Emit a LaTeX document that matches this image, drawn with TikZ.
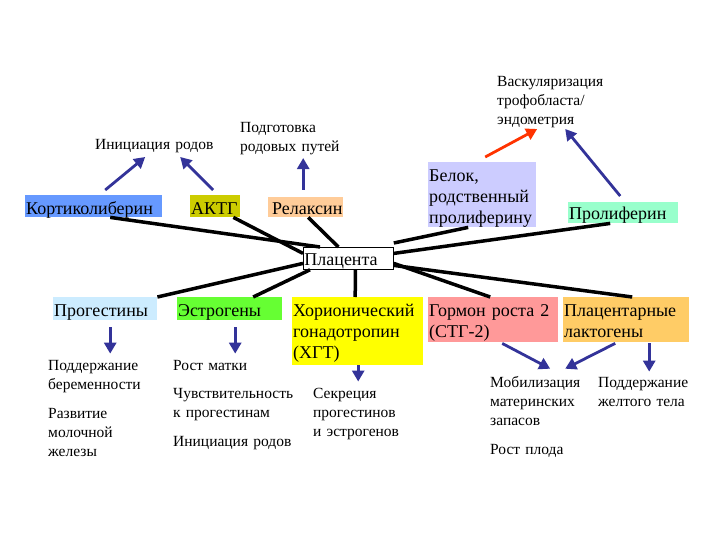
\documentclass[tikz,border=0pt]{standalone}
\usepackage{fontspec}
\setmainfont{Liberation Serif}
\usepackage{xcolor}
\usepackage{tikz}
\usetikzlibrary{arrows.meta,positioning}

\definecolor{kortblue}{HTML}{6699FF}
\definecolor{aktgolive}{HTML}{CCCC00}
\definecolor{relaxpeach}{HTML}{FFCC99}
\definecolor{belokviolet}{HTML}{CCCCFF}
\definecolor{prolifmint}{HTML}{99FFCC}
\definecolor{progestsky}{HTML}{CCECFF}
\definecolor{estrgreen}{HTML}{66FF33}
\definecolor{hgtyellow}{HTML}{FFFF00}
\definecolor{stgpink}{HTML}{FF9999}
\definecolor{laktorange}{HTML}{FFCC66}
\definecolor{arrowblue}{HTML}{333399}
\definecolor{arrowred}{HTML}{FF3300}

\newcommand\bigtext{\fontsize{18}{21}\selectfont}
\newcommand\smalltext{\fontsize{15.5}{19}\selectfont}

\tikzset{
    hormone/.style={anchor=north west, inner xsep=1pt, inner ysep=0pt, align=left, font=\bigtext},
    effect/.style={anchor=base west, inner sep=0pt, align=left, font=\smalltext},
    link/.style={line width=3.5pt},
    effarrow/.style={line width=2.8pt, color=arrowblue, -{Triangle[length=11pt,width=12pt]}}
}

\begin{document}
\begin{tikzpicture}[x=1pt, y=-1pt]
                \useasboundingbox (0,0) rectangle (720,540);

                \node[hormone, fill=kortblue, text width=135pt, text height=19pt, text depth=3pt] (kort) at (25,195) {Кортиколиберин};
                \node[hormone, fill=aktgolive, text width=48pt, text height=19pt, text depth=3pt] (aktg) at (190,195) {АКТГ};
                \node[hormone, fill=relaxpeach, text width=73pt, text height=17pt, text depth=3pt] (relax) at (268,197) {\,Релаксин};
                \node[hormone, fill=belokviolet, text width=106pt, text height=19pt, text depth=46pt] (belok) at (428,162) {Белок,\\родственный\\пролиферину};
                \node[hormone, fill=prolifmint, text width=108pt, text height=17pt, text depth=4pt] (prolif) at (568,202) {Пролиферин};

                \node[hormone, draw=black, line width=0.8pt, fill=white, text width=88pt, text height=18pt, text depth=4pt] (plac) at (303,247) {Плацента};

                \node[hormone, fill=progestsky, text width=102pt, text height=19pt, text depth=4pt] (progest) at (53,297) {Прогестины};
                \node[hormone, fill=estrgreen, text width=103pt, text height=19pt, text depth=4pt] (estr) at (177,297) {Эстрогены};
                \node[hormone, fill=hgtyellow, text width=129pt, text height=19pt, text depth=49pt] (hgt) at (292,297) {Хорионический\\гонадотропин\\(ХГТ)};
                \node[hormone, fill=stgpink, text width=128pt, text height=19pt, text depth=26pt] (stg) at (428,297) {Гормон~роста~2\\(СТГ-2)};
                \node[hormone, fill=laktorange, text width=124pt, text height=19pt, text depth=26pt] (lakt) at (563,297) {Плацентарные\\лактогены};

                \node[effect, text width=135pt] (init) at (95,150) {Инициация родов};
                \node[effect, text width=120pt] (podg) at (240,133) {Подготовка\\родовых путей};
                \node[effect, text width=125pt] (vask) at (497,87) {Васкуляризация\\трофобласта/\\эндометрия};

                \node[effect, text width=110pt] (podd1) at (48,370) {Поддержание\\беременности};
                \node[effect, text width=100pt] (razv) at (48,418) {Развитие\\молочной\\железы};
                \node[effect, text width=90pt] (rost) at (173,370) {Рост матки};
                \node[effect, text width=140pt] (chuv) at (173,398) {Чувствительность\\к прогестинам};
                \node[effect, text width=135pt] (init2) at (173,446) {Инициация родов};
                \node[effect, text width=105pt] (sekr) at (313,398) {Секреция\\прогестинов\\и эстрогенов};
                \node[effect, text width=105pt] (mob) at (490,387) {Мобилизация\\материнских\\запасов};
                \node[effect, text width=90pt] (rostp) at (490,454) {Рост плода};
                \node[effect, text width=105pt] (podd2) at (598,387) {Поддержание\\желтого тела};

                \draw[link] ([xshift=16.5pt]kort.south) -- ([xshift=17pt]plac.north west);
                \draw[link] ([xshift=-7pt]aktg.south east) -- ([yshift=5pt]plac.west);
                \draw[link] ([xshift=2.5pt]relax.south) -- ([xshift=-10pt]plac.north);
                \draw[link] ([xshift=-14pt]belok.south) -- ([yshift=4pt]plac.north east);
                \draw[link] ([xshift=-13pt]prolif.south) -- ([yshift=5pt]plac.east);
                \draw[link] (progest.north east) -- ([yshift=-5pt]plac.west);
                \draw[link] ([xshift=23.5pt]estr.north) -- ([xshift=7pt]plac.south west);
                \draw[link] ([xshift=7pt]plac.south) -- ([xshift=-2.5pt]hgt.north);
                \draw[link] ([yshift=-5pt]plac.east) -- ([xshift=-3pt]stg.north);
                \draw[link] ([yshift=-7pt]plac.east) -- ([xshift=6pt]lakt.north);

                \draw[effarrow] ([xshift=11.5pt,yshift=5pt]kort.north) -- ([xshift=-17.5pt,yshift=-3.5pt]init.south);
                \draw[effarrow] ([xshift=-2pt,yshift=5pt]aktg.north) -- ([xshift=17.5pt,yshift=-3.5pt]init.south);
                \draw[effarrow] ([xshift=-2.5pt,yshift=7pt]relax.north) -- ([xshift=3pt,yshift=-2.5pt]podg.south);
                \draw[effarrow, color=arrowred] ([xshift=3pt,yshift=5pt]belok.north) -- ([xshift=-22.5pt,yshift=-0.5pt]vask.south);
                \draw[effarrow] ([xshift=-3pt,yshift=6pt]prolif.north) -- ([xshift=5.5pt,yshift=-0.5pt]vask.south);

                \draw[effarrow] ([xshift=5pt,yshift=-7pt]progest.south) -- ([xshift=7pt,yshift=6pt]podd1.north);
                \draw[effarrow] ([xshift=5.5pt,yshift=-7pt]estr.south) -- ([xshift=17pt,yshift=6pt]rost.north);
                \draw[effarrow] ([xshift=0.5pt]hgt.south) -- ([xshift=-7.5pt,yshift=6pt]sekr.north);
                \draw[effarrow] ([xshift=9pt,yshift=-1pt]stg.south) -- ([xshift=7.5pt,yshift=7pt]mob.north);
                \draw[effarrow] ([xshift=-11pt,yshift=-1pt]lakt.south) -- ([xshift=22.5pt,yshift=7pt]mob.north);
                \draw[effarrow] ([xshift=23pt,yshift=-1pt]lakt.south) -- ([xshift=-1.5pt,yshift=5pt]podd2.north);
\end{tikzpicture}
\end{document}
